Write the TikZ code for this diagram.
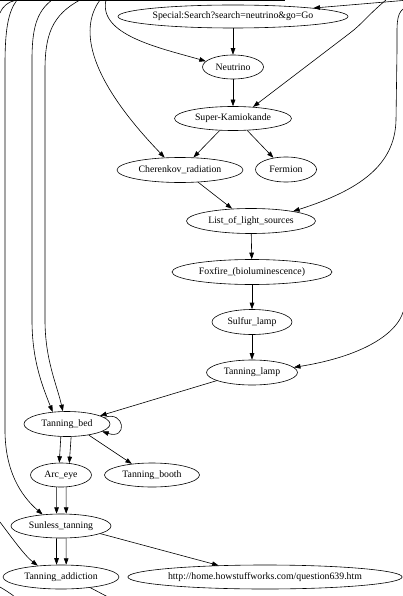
\documentclass[tikz,border=0pt]{standalone}
\usepackage{fontspec}
\setmainfont{Liberation Serif}
\usetikzlibrary{arrows.meta,shapes.geometric}
\begin{document}
\begin{tikzpicture}[x=1pt,y=-1pt,
  nd/.style={draw,ellipse,inner sep=0pt,minimum height=24pt,line width=0.6pt,
    font=\fontsize{9.8}{11}\selectfont},
  ed/.style={line width=0.6pt,-{Triangle[length=6.5pt,width=4.6pt]}},
  fr/.style={line width=0.6pt}]
\useasboundingbox (0,0) rectangle (403,596);
\clip (0,0) rectangle (403,596);
% nodes
\node[nd,minimum width=230pt,minimum height=23pt] (sp) at (233,16.5) {Special:Search?search=neutrino\&go=Go};
\node[nd,minimum width=61pt] (ne) at (233,67) {Neutrino};
\node[nd,minimum width=117pt] (sk) at (233,118.5) {Super-Kamiokande};
\node[nd,minimum width=126pt,minimum height=25pt] (ch) at (180,170) {Cherenkov\_radiation};
\node[nd,minimum width=61pt,minimum height=25pt] (fm) at (286,169.5) {Fermion};
\node[nd,minimum width=129pt,minimum height=25pt] (li) at (251,221) {List\_of\_light\_sources};
\node[nd,minimum width=160pt,minimum height=25pt] (fx) at (252,272) {Foxfire\_(bioluminescence)};
\node[nd,minimum width=80pt,minimum height=25pt] (su) at (252,322) {Sulfur\_lamp};
\node[nd,minimum width=91pt,minimum height=25pt] (tl) at (252,372.5) {Tanning\_lamp};
\node[nd,minimum width=86pt,minimum height=25pt] (tb) at (67,424) {Tanning\_bed};
\node[nd,minimum width=61pt] (ae) at (61,475) {Arc\_eye};
\node[nd,minimum width=95pt] (bo) at (152,475) {Tanning\_booth};
\node[nd,minimum width=100pt] (st) at (61,526) {Sunless\_tanning};
\node[nd,minimum width=116pt] (ta) at (61,577) {Tanning\_addiction};
\node[nd,minimum width=270pt] (ht) at (265,577) {http://home.howstuffworks.com/question639.htm};
% free ends
\coordinate (t1) at (106,0);
\coordinate (t2) at (386,0);
\coordinate (t3) at (100,0);
\coordinate (t4) at (403,9);
\coordinate (t5) at (52,0);
\coordinate (t6) at (80,0);
\coordinate (t7) at (17,0);
\coordinate (r0) at (403,0.5);
\coordinate (r2) at (403,312);
\coordinate (l1) at (0,522);
\coordinate (b1) at (108,597);
\coordinate (c1) at (0,13);
\coordinate (c2) at (15,0.5);
\coordinate (c3) at (0,587);
\coordinate (c4) at (15,597);
% top band
\draw[fr,line width=1.4pt] (0,0.8) -- (150,0.8);
\draw[fr,line width=0.8pt] (150,0.5) -- (285,0.5);
% edges
\draw[ed] (r0) -- (sp.6);
\draw[ed] (sp) -- (ne);
\draw[ed] (t1) .. controls (98,35) and (160,48) .. (ne.168);
\draw[ed] (ne) -- (sk);
\draw[ed] (t2) .. controls (368,15) and (362,24) .. (350,33) -- (sk.30);
\draw[ed] (t3) .. controls (78,30) and (90,80) .. (ch.141);
\draw[ed] (sk.222) -- (ch.43);
\draw[ed] (sk.-40) -- (fm.137);
\draw[ed] (ch.-34) -- (li.147);
\draw[ed] (t4) .. controls (396,15) and (397,25) .. (397,50) -- (396,120) .. controls (395,165) and (360,190) .. (li.13);
\draw[ed] (li) -- (fx);
\draw[ed] (fx) -- (su);
\draw[ed] (su) -- (tl);
\draw[ed] (r2) .. controls (398,330) and (370,355) .. (tl.7);
\draw[ed] (tl.193) -- (tb.14);
\draw[ed] (tb.10) .. controls (125,410) and (128,440) .. (tb.-12);
\draw[ed] (t5) .. controls (36,12) and (32,30) .. (32,60) -- (32,320) .. controls (32,360) and (42,385) .. (tb.140);
\draw[ed] (t6) .. controls (52,15) and (45,35) .. (45,70) -- (45,320) .. controls (45,360) and (57,385) .. (tb.108);
\draw[ed] (t7) .. controls (8,12) and (5,30) .. (5,65) -- (5,430) .. controls (5,470) and (20,495) .. (st.148);
\draw[fr] (c1) .. controls (3,6) and (8,2) .. (c2);
\draw[ed] (tb.244) -- (ae.98);
\draw[ed] (tb.288) -- (ae.55);
\draw[ed] (tb.-27) -- (bo.151);
\draw[ed] (ae.250) -- (st.110);
\draw[ed] (ae.-67) -- (st.67);
\draw[ed] (st.250) -- (ta.110);
\draw[ed] (st.-67) -- (ta.67);
\draw[ed] (st.-11) -- (ht.166);
\draw[ed] (l1) .. controls (12,538) and (25,556) .. (ta.154);
\draw[fr] (ta.-20) -- (b1);
\draw[fr] (c3) .. controls (5,590) and (10,593) .. (c4);
\end{tikzpicture}
\end{document}
